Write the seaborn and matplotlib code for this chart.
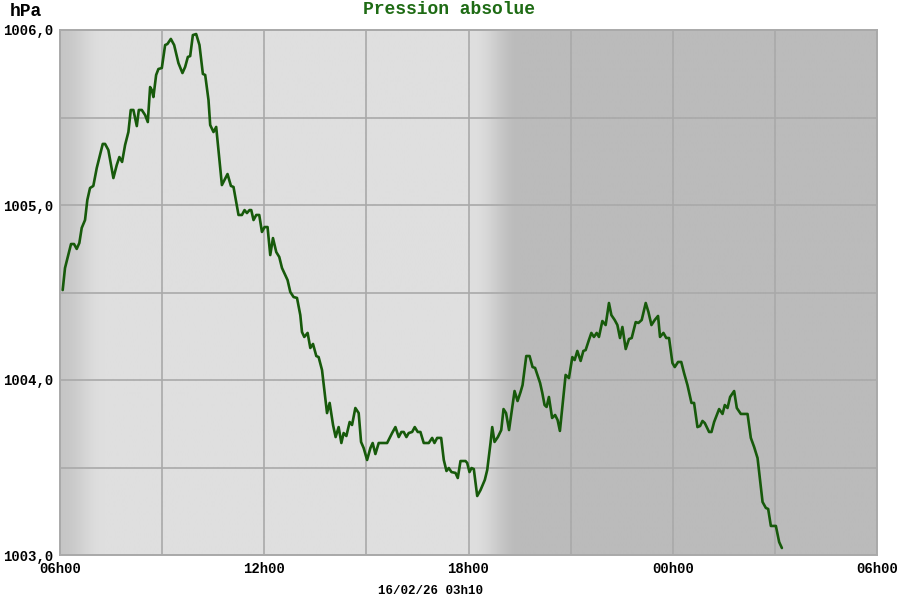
import numpy as np
import pandas as pd
import matplotlib
matplotlib.use("Agg")
import matplotlib.pyplot as plt
import seaborn as sns

# ---- data: hours elapsed since 06h00 (16/02/26 06h00 -> next day 06h00), pressure in hPa
hours = [0.079, 0.147, 0.244, 0.324, 0.412, 0.491, 0.568, 0.638, 0.735, 0.803,
         0.882, 0.979, 1.079, 1.256, 1.324, 1.421, 1.568, 1.668, 1.744, 1.824,
         1.912, 2.009, 2.079, 2.156, 2.256, 2.315, 2.403, 2.500, 2.579, 2.647,
         2.697, 2.744, 2.824, 2.891, 2.991, 3.088, 3.156, 3.256, 3.353, 3.479,
         3.597, 3.676, 3.756, 3.824, 3.903, 4.000, 4.097, 4.197, 4.265, 4.362,
         4.412, 4.509, 4.588, 4.756, 4.921, 5.021, 5.097, 5.244, 5.344, 5.421,
         5.491, 5.568, 5.618, 5.685, 5.765, 5.853, 5.932, 6.009, 6.097, 6.176,
         6.256, 6.353, 6.441, 6.521, 6.685, 6.765, 6.862, 6.962, 7.059, 7.109,
         7.176, 7.274, 7.353, 7.432, 7.529, 7.597, 7.697, 7.765, 7.844, 7.921,
         8.021, 8.097, 8.185, 8.265, 8.332, 8.412, 8.509, 8.579, 8.676, 8.774,
         8.844, 8.921, 9.021, 9.118, 9.185, 9.265, 9.362, 9.609, 9.756, 9.853,
         9.950, 10.029, 10.097, 10.176, 10.244, 10.344, 10.421, 10.509, 10.588, 10.685,
         10.832, 10.932, 11.000, 11.079, 11.197, 11.274, 11.353, 11.421, 11.500, 11.618,
         11.685, 11.765, 11.912, 11.962, 12.029, 12.088, 12.156, 12.256, 12.353, 12.479,
         12.550, 12.647, 12.697, 12.765, 12.862, 12.962, 13.029, 13.103, 13.191, 13.353,
         13.441, 13.529, 13.588, 13.697, 13.794, 13.882, 13.956, 14.103, 14.168, 14.235,
         14.294, 14.362, 14.456, 14.544, 14.618, 14.685, 14.853, 14.950, 15.050, 15.118,
         15.197, 15.294, 15.374, 15.441, 15.538, 15.609, 15.685, 15.765, 15.832, 15.932,
         16.029, 16.126, 16.197, 16.294, 16.374, 16.450, 16.521, 16.618, 16.715, 16.794,
         16.912, 16.991, 17.088, 17.206, 17.285, 17.374, 17.471, 17.568, 17.626, 17.726,
         17.809, 17.891, 17.991, 18.059, 18.156, 18.250, 18.332, 18.432, 18.550, 18.626,
         18.726, 18.803, 18.874, 18.941, 19.068, 19.138, 19.215, 19.362, 19.462, 19.529,
         19.609, 19.685, 19.803, 19.882, 20.000, 20.197, 20.294, 20.391, 20.491, 20.638,
         20.735, 20.803, 20.882, 21.029, 21.126, 21.206]

pressure = [1004.514, 1004.640, 1004.714, 1004.777, 1004.777, 1004.749, 1004.783, 1004.869, 1004.914, 1005.029,
            1005.097, 1005.109, 1005.211, 1005.349, 1005.349, 1005.314, 1005.154, 1005.229, 1005.274, 1005.246,
            1005.343, 1005.417, 1005.543, 1005.543, 1005.451, 1005.543, 1005.543, 1005.514, 1005.474, 1005.674,
            1005.657, 1005.617, 1005.743, 1005.777, 1005.783, 1005.914, 1005.920, 1005.949, 1005.914, 1005.811,
            1005.754, 1005.789, 1005.846, 1005.851, 1005.971, 1005.977, 1005.914, 1005.749, 1005.743, 1005.600,
            1005.457, 1005.417, 1005.446, 1005.114, 1005.177, 1005.109, 1005.103, 1004.943, 1004.943, 1004.971,
            1004.954, 1004.971, 1004.971, 1004.914, 1004.943, 1004.943, 1004.846, 1004.874, 1004.874, 1004.714,
            1004.811, 1004.731, 1004.703, 1004.640, 1004.571, 1004.503, 1004.474, 1004.469, 1004.371, 1004.274,
            1004.246, 1004.269, 1004.183, 1004.206, 1004.137, 1004.131, 1004.057, 1003.943, 1003.811, 1003.869,
            1003.743, 1003.674, 1003.731, 1003.640, 1003.697, 1003.680, 1003.760, 1003.743, 1003.840, 1003.811,
            1003.646, 1003.611, 1003.543, 1003.611, 1003.640, 1003.577, 1003.640, 1003.640, 1003.697, 1003.731,
            1003.674, 1003.703, 1003.703, 1003.674, 1003.697, 1003.703, 1003.731, 1003.703, 1003.703, 1003.640,
            1003.640, 1003.669, 1003.640, 1003.669, 1003.669, 1003.543, 1003.480, 1003.497, 1003.474, 1003.469,
            1003.440, 1003.537, 1003.537, 1003.526, 1003.474, 1003.497, 1003.491, 1003.337, 1003.371, 1003.429,
            1003.486, 1003.640, 1003.731, 1003.646, 1003.674, 1003.714, 1003.834, 1003.811, 1003.714, 1003.937,
            1003.880, 1003.931, 1003.971, 1004.137, 1004.137, 1004.074, 1004.069, 1003.983, 1003.926, 1003.857,
            1003.846, 1003.903, 1003.783, 1003.800, 1003.771, 1003.709, 1004.029, 1004.011, 1004.131, 1004.114,
            1004.166, 1004.109, 1004.166, 1004.171, 1004.229, 1004.269, 1004.246, 1004.269, 1004.246, 1004.337,
            1004.314, 1004.440, 1004.371, 1004.343, 1004.314, 1004.240, 1004.303, 1004.177, 1004.234, 1004.240,
            1004.331, 1004.326, 1004.343, 1004.440, 1004.389, 1004.314, 1004.343, 1004.366, 1004.246, 1004.269,
            1004.240, 1004.240, 1004.097, 1004.074, 1004.103, 1004.103, 1004.040, 1003.971, 1003.869, 1003.869,
            1003.731, 1003.737, 1003.766, 1003.754, 1003.703, 1003.703, 1003.760, 1003.834, 1003.806, 1003.857,
            1003.840, 1003.903, 1003.937, 1003.840, 1003.806, 1003.806, 1003.669, 1003.617, 1003.554, 1003.303,
            1003.269, 1003.263, 1003.166, 1003.166, 1003.074, 1003.040]

x_tick_labels = ["06h00", "12h00", "18h00", "00h00", "06h00"]
y_tick_labels = ["1003,0", "1004,0", "1005,0", "1006,0"]
title = "Pression absolue"
unit = "hPa"
stamp = "16/02/26 03h10"

df = pd.DataFrame({"hours": hours, "pressure": pressure})

sns.set_style("white")
plt.rcParams["font.family"] = ["Liberation Mono", "DejaVu Sans Mono"]
plt.rcParams["font.weight"] = "bold"

fig = plt.figure(figsize=(9, 6), dpi=100)
ax = fig.add_axes([60 / 900, 45 / 600, 817 / 900, 525 / 600])

# ---- day / night background
day_c = np.array([223, 223, 223]) / 255
night_c = np.array([187, 187, 187]) / 255
xs = np.linspace(0, 24, 2401)
level = np.zeros_like(xs)
dawn = xs < 1.3
level[dawn] = 0.7 * (0.5 + 0.5 * np.cos(np.pi * xs[dawn] / 1.3))
dusk_a, dusk_b = 12.1, 13.5
m = (xs >= dusk_a) & (xs <= dusk_b)
level[m] = 0.5 - 0.5 * np.cos(np.pi * (xs[m] - dusk_a) / (dusk_b - dusk_a))
level[xs > dusk_b] = 1.0
img = day_c[None, None, :] + (night_c - day_c)[None, None, :] * level[None, :, None]
ax.imshow(img, extent=(0, 24, 1003, 1006), aspect="auto", zorder=-1,
          interpolation="bilinear", origin="lower")

sns.lineplot(data=df, x="hours", y="pressure", ax=ax, color="#175a0b",
             linewidth=1.9, sort=False, estimator=None, zorder=3)

ax.set_xlim(0, 24)
ax.set_ylim(1003, 1006)

xt = np.arange(0, 25, 3)
ax.set_xticks(xt)
ax.set_xticklabels([x_tick_labels[i // 2] if i % 2 == 0 else "" for i in range(len(xt))])
yt = np.arange(1003, 1006.01, 0.5)
ax.set_yticks(yt)
ax.set_yticklabels([y_tick_labels[i // 2] if i % 2 == 0 else "" for i in range(len(yt))])

ax.tick_params(axis="both", length=0, labelsize=10, colors="black")
ax.tick_params(axis="x", pad=5)
ax.tick_params(axis="y", pad=5)
for lab in ax.get_xticklabels() + ax.get_yticklabels():
    lab.set_fontweight("bold")

ax.grid(True, color="#a9a9a9", linewidth=1.2)
ax.set_axisbelow(True)
for s in ax.spines.values():
    s.set_color("#a9a9a9")
    s.set_linewidth(1.4)
    s.set_visible(True)

ax.set_xlabel("")
ax.set_ylabel("")

fig.text(449 / 900, 1 - 10 / 600, title, ha="center", va="center",
         color="#1e6b14", fontsize=13, fontweight="bold")
fig.text(10 / 900, 1 - 12 / 600, unit, ha="left", va="center",
         color="black", fontsize=13, fontweight="bold")
fig.text(431 / 900, 1 - 591 / 600, stamp, ha="center", va="center",
         color="black", fontsize=9, fontweight="bold")

fig.savefig("out.png", dpi=100)
